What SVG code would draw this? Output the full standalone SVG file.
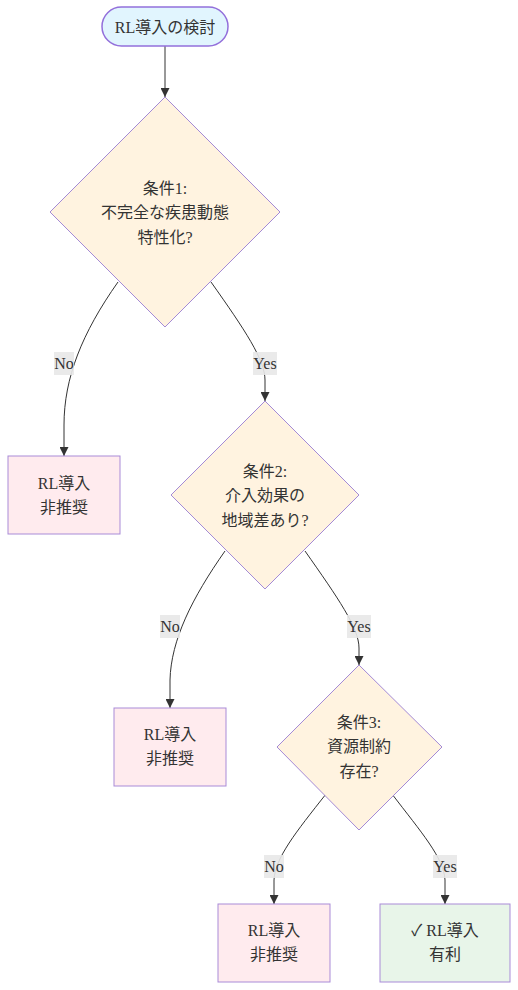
<svg xmlns="http://www.w3.org/2000/svg" width="518" height="990" viewBox="0 0 518 990">
<style>
text{font-family:"Liberation Serif","Noto Sans CJK JP",serif;font-size:16px;fill:#333;text-anchor:middle;dominant-baseline:central}
.n{stroke:#9370DB;stroke-width:1}
.start{fill:#e1f5fe;stroke-width:1.5}
.dec{fill:#fff3e0;stroke:#a48ad6}
.no{fill:#ffebee;stroke:#a98bd8}
.yes{fill:#e8f5e9;stroke:#a98bd8}
.e{fill:none;stroke:#333;stroke-width:1}
.lb{fill:#e8e8e8;opacity:0.9}
</style>
<defs>
<marker id="ah" viewBox="0 0 10 10" refX="10" refY="5" markerWidth="9" markerHeight="9" markerUnits="userSpaceOnUse" orient="auto">
<path d="M0,0 L10,5 L0,10 z" fill="#333"/>
</marker>
</defs>
<g id="connectors">
<path class="e" d="M165,46 L165,97" marker-end="url(#ah)"/>
<path class="e" d="M118,282 C82,333 64,378 64,425 L64,456" marker-end="url(#ah)"/>
<path class="e" d="M211,282 C245,330 265,360 265,380 L265,401" marker-end="url(#ah)"/>
<path class="e" d="M225,551 C192,598 171,640 170,680 L170,708" marker-end="url(#ah)"/>
<path class="e" d="M305,551 C338,598 359,628 359,648 L359,665" marker-end="url(#ah)"/>
<path class="e" d="M326,794 C296,832 275,858 274,880 L274,904" marker-end="url(#ah)"/>
<path class="e" d="M392,794 C421,832 444,858 445,880 L445,904" marker-end="url(#ah)"/>
<rect class="lb" x="54" y="352" width="20" height="23"/><text x="64" y="363.5">No</text>
<rect class="lb" x="253" y="352" width="24" height="23"/><text x="265" y="363.5">Yes</text>
<rect class="lb" x="160" y="615" width="20" height="23"/><text x="170" y="626.5">No</text>
<rect class="lb" x="347" y="615" width="24" height="23"/><text x="359" y="626.5">Yes</text>
<rect class="lb" x="264" y="855" width="20" height="23"/><text x="274" y="866.5">No</text>
<rect class="lb" x="433" y="855" width="24" height="23"/><text x="445" y="866.5">Yes</text>
</g>
<g id="start">
<rect class="n start" x="102" y="7" width="126" height="39" rx="19.5"/>
<text x="165" y="27">RL導入の検討</text>
</g>
<g id="cond1">
<polygon class="n dec" points="165,97 280,212 165,327 50,212"/>
<text x="165" y="188">条件1:</text>
<text x="165" y="212">不完全な疾患動態</text>
<text x="165" y="237">特性化?</text>
</g>
<g id="reject1">
<rect class="n no" x="8" y="456" width="112" height="78"/>
<text x="64" y="483">RL導入</text>
<text x="64" y="507">非推奨</text>
</g>
<g id="cond2">
<polygon class="n dec" points="265,401 359,495 265,589 171,495"/>
<text x="265" y="471">条件2:</text>
<text x="265" y="495">介入効果の</text>
<text x="265" y="520">地域差あり?</text>
</g>
<g id="reject2">
<rect class="n no" x="114" y="708" width="112" height="78"/>
<text x="170" y="734">RL導入</text>
<text x="170" y="758">非推奨</text>
</g>
<g id="cond3">
<polygon class="n dec" points="359,665 442,747 359,830 277,747"/>
<text x="359" y="722">条件3:</text>
<text x="359" y="746">資源制約</text>
<text x="359" y="771">存在?</text>
</g>
<g id="reject3">
<rect class="n no" x="218" y="904" width="112" height="78"/>
<text x="274" y="930">RL導入</text>
<text x="274" y="954">非推奨</text>
</g>
<g id="favor">
<rect class="n yes" x="380" y="904" width="130" height="78"/>
<text x="445" y="930">✓ RL導入</text>
<text x="445" y="954">有利</text>
</g>
</svg>
